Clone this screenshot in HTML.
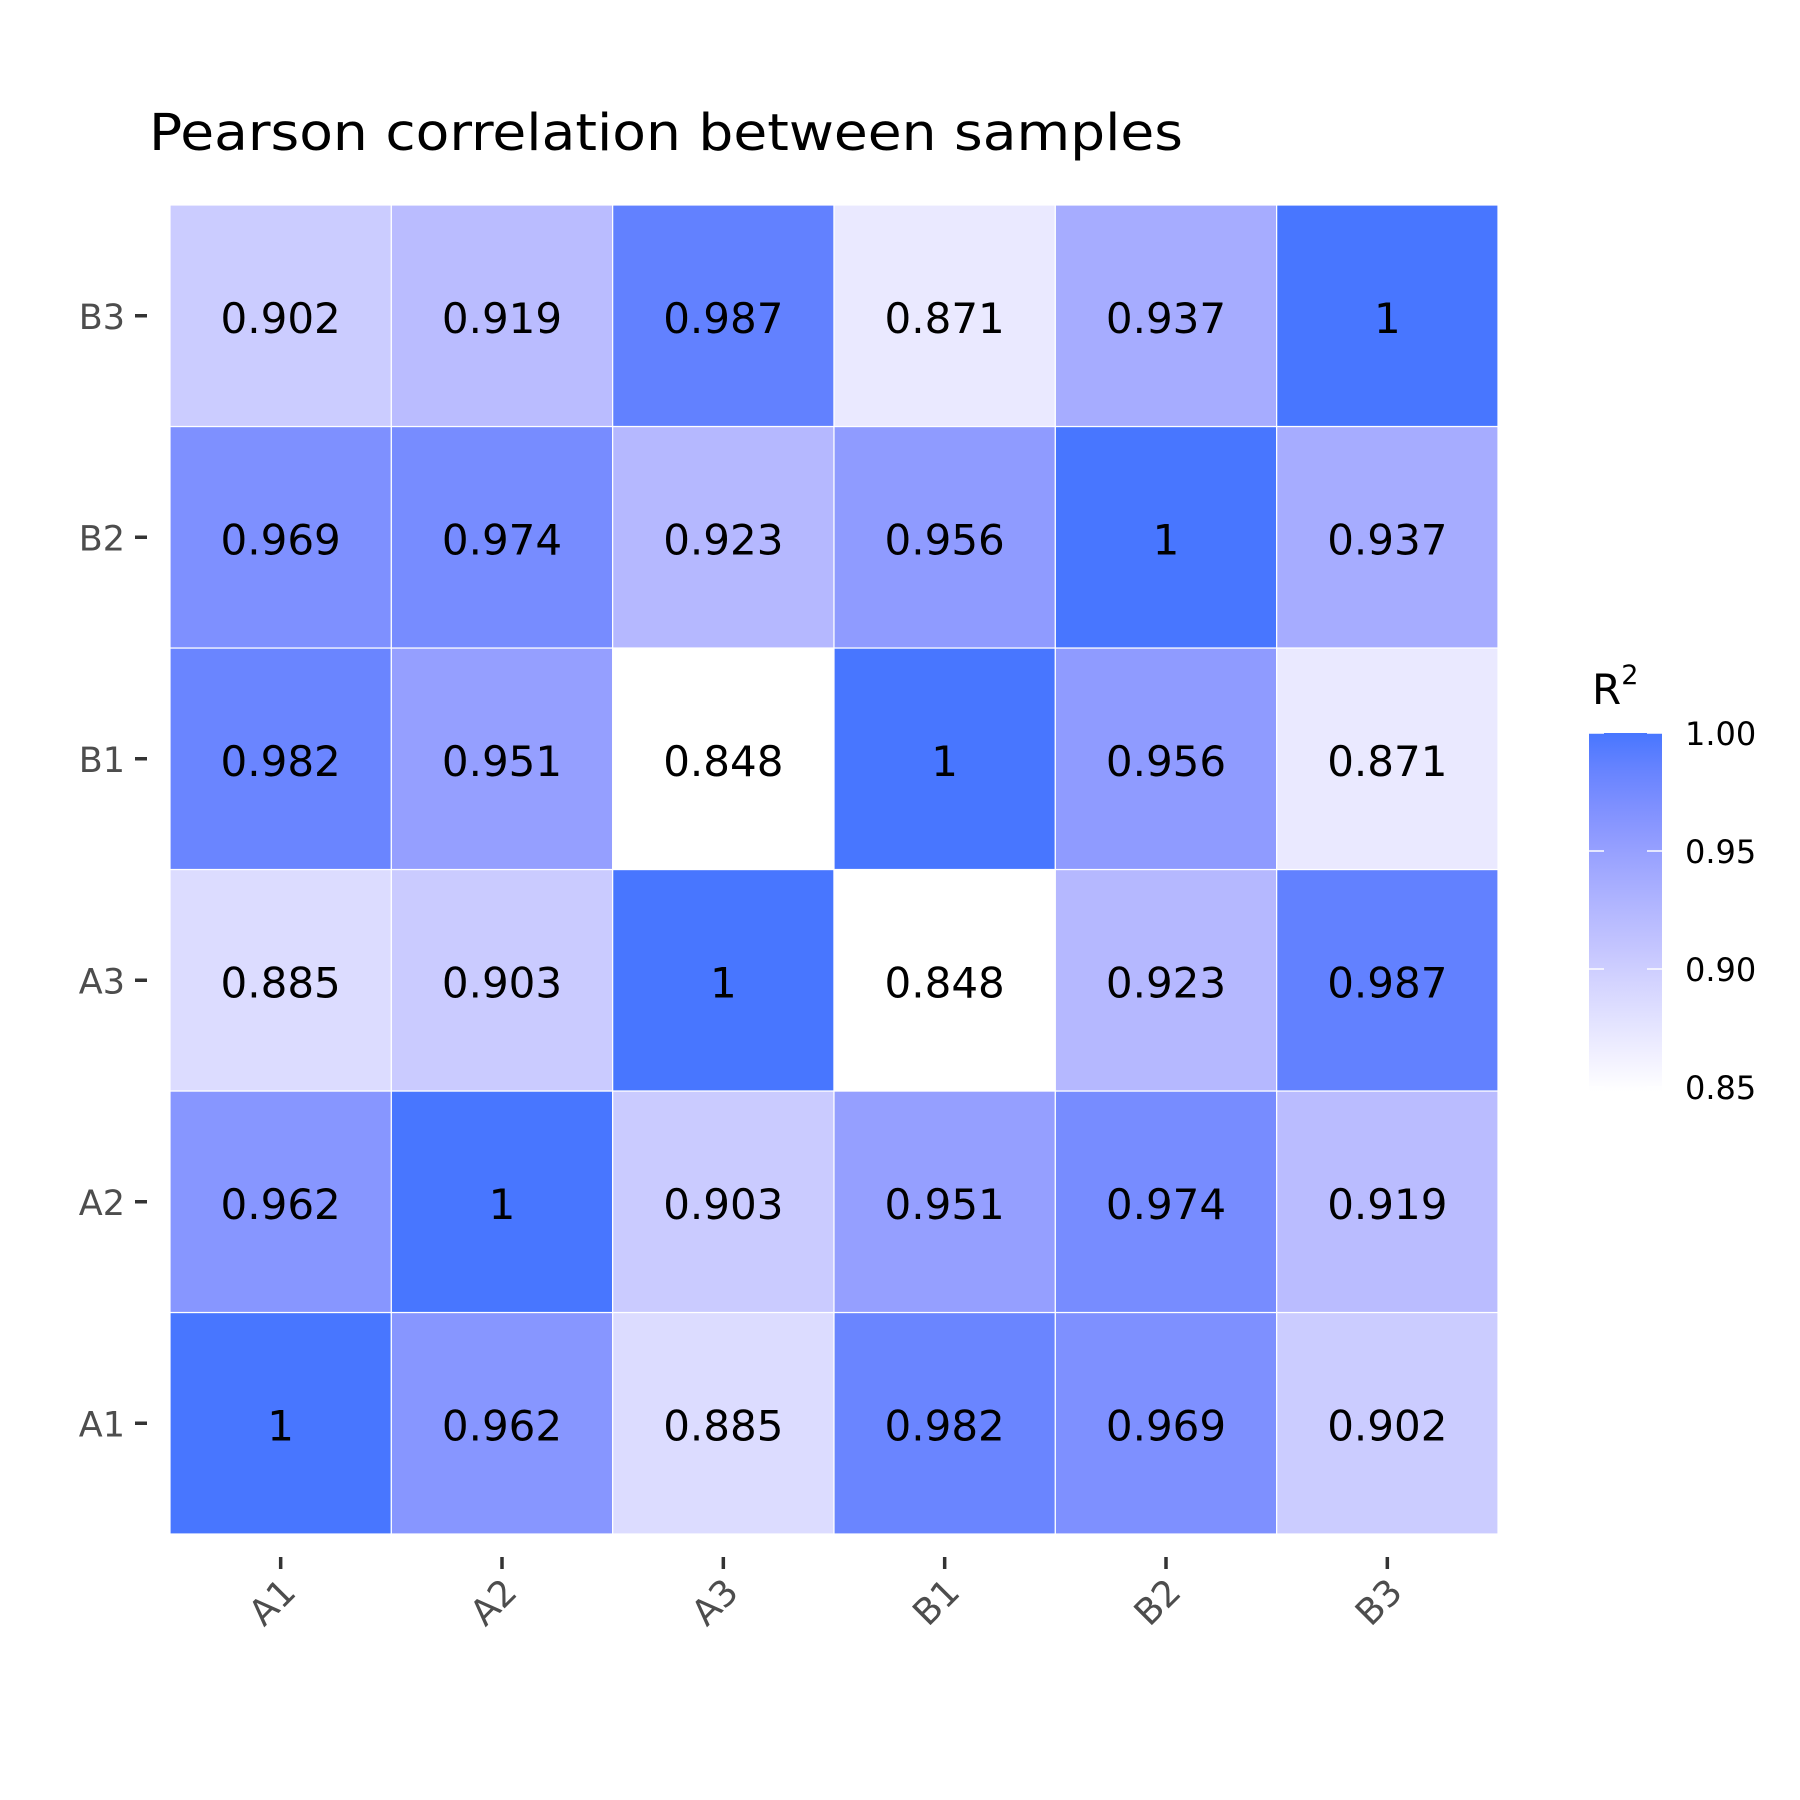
<!DOCTYPE html>
<html><head><meta charset="utf-8"><style>html,body{margin:0;padding:0;background:#fff}svg{display:block}</style></head>
<body>
<svg id="chart" width="1800" height="1800" viewBox="0 0 1800 1800" xmlns="http://www.w3.org/2000/svg" font-family="'DejaVu Sans','Liberation Sans',sans-serif">
<rect width="1800" height="1800" fill="#fff"/>
<text x="149" y="150" font-size="51" textLength="1034" lengthAdjust="spacingAndGlyphs" fill="#000">Pearson correlation between samples</text>
<g id="cells"></g>
<g id="yaxis"></g>
<g id="xaxis"></g>
<g id="legend">
<defs><linearGradient id="grad" x1="0" y1="1" x2="0" y2="0"></linearGradient></defs>
<text x="1592" y="704" font-size="42" fill="#000">R<tspan dy="-20" font-size="27">2</tspan></text>
</g>
</svg>
<script>
const samples = ["A1","A2","A3","B1","B2","B3"];
const rowA1 = [1, 0.962, 0.885, 0.982, 0.969, 0.902];
const rowA2 = [0.962, 1, 0.903, 0.951, 0.974, 0.919];
const rowA3 = [0.885, 0.903, 1, 0.848, 0.923, 0.987];
const rowB1 = [0.982, 0.951, 0.848, 1, 0.956, 0.871];
const rowB2 = [0.969, 0.974, 0.923, 0.956, 1, 0.937];
const rowB3 = [0.902, 0.919, 0.987, 0.871, 0.937, 1];
const legendTicks = [0.85, 0.90, 0.95, 1.00];
const legendTickLabels = ["0.85","0.90","0.95","1.00"];
const rows = [rowA1,rowA2,rowA3,rowB1,rowB2,rowB3];

const NS = "http://www.w3.org/2000/svg";
const pLeft = 170, pRight = 1498, pTop = 205, pBottom = 1534;
const nS = samples.length;
const cw = (pRight-pLeft)/nS, ch = (pBottom-pTop)/nS;
const xPos = i => pLeft + i*cw;
const yPos = j => pBottom - (j+1)*ch;
let vmin = Infinity, vmax = -Infinity;
rows.forEach(r => r.forEach(v => { vmin = Math.min(vmin, v); vmax = Math.max(vmax, v); }));

function toLin(c){c/=255;return c<=0.04045?c/12.92:Math.pow((c+0.055)/1.055,2.4);}
function fromLin(c){c=c<=0.0031308?12.92*c:1.055*Math.pow(c,1/2.4)-0.055;return Math.round(Math.max(0,Math.min(1,c))*255);}
function rgb2lab(r,g,b){r=toLin(r);g=toLin(g);b=toLin(b);
 let X=(r*0.4124+g*0.3576+b*0.1805)/0.95047,Y=(r*0.2126+g*0.7152+b*0.0722),Z=(r*0.0193+g*0.1192+b*0.9505)/1.08883;
 const f=t=>t>0.008856?Math.cbrt(t):7.787*t+16/116;
 X=f(X);Y=f(Y);Z=f(Z);return [116*Y-16,500*(X-Y),200*(Y-Z)];}
function lab2rgb(L,a,b){let Y=(L+16)/116,X=a/500+Y,Z=Y-b/200;
 const fi=t=>t*t*t>0.008856?t*t*t:(t-16/116)/7.787;
 X=fi(X)*0.95047;Y=fi(Y);Z=fi(Z)*1.08883;
 const r=X*3.2406+Y*-1.5372+Z*-0.4986,g=X*-0.9689+Y*1.8758+Z*0.0415,bb=X*0.0557+Y*-0.2040+Z*1.0570;
 return "rgb("+fromLin(r)+","+fromLin(g)+","+fromLin(bb)+")";}
const labLo = rgb2lab(255,255,255), labHi = rgb2lab(72,118,255);
function color(v){const t=(v-vmin)/(vmax-vmin);return lab2rgb(labLo[0]+(labHi[0]-labLo[0])*t,labLo[1]+(labHi[1]-labLo[1])*t,labLo[2]+(labHi[2]-labLo[2])*t);}

const cells = document.getElementById("cells");
rows.forEach((r, j) => r.forEach((v, i) => {
  const rect = document.createElementNS(NS,"rect");
  
  
  rect.setAttribute("x", xPos(i)); rect.setAttribute("y", yPos(j));
  rect.setAttribute("width", cw); rect.setAttribute("height", ch);
  rect.setAttribute("fill", color(v)); rect.setAttribute("stroke", "#fff"); rect.setAttribute("stroke-width", "1.2");
  cells.appendChild(rect);
}));
rows.forEach((r, j) => r.forEach((v, i) => {
  const t = document.createElementNS(NS,"text");
  
  
  t.setAttribute("x", xPos(i)+cw/2); t.setAttribute("y", yPos(j)+ch/2+17);
  t.setAttribute("text-anchor","middle"); t.setAttribute("font-size","42"); t.setAttribute("fill","#000");
  t.textContent = String(v);
  cells.appendChild(t);
}));

const yaxis = document.getElementById("yaxis"), xaxis = document.getElementById("xaxis");
samples.forEach((s, k) => {
  const cy = yPos(k)+ch/2;
  const tk = document.createElementNS(NS,"line");
  
  
  tk.setAttribute("x1",135); tk.setAttribute("x2",147); tk.setAttribute("y1",cy); tk.setAttribute("y2",cy);
  tk.setAttribute("stroke","#333"); tk.setAttribute("stroke-width","3.5");
  yaxis.appendChild(tk);
  const lb = document.createElementNS(NS,"text");
  
  
  lb.setAttribute("x",125); lb.setAttribute("y",cy+13); lb.setAttribute("text-anchor","end");
  lb.setAttribute("font-size","35"); lb.setAttribute("fill","#4d4d4d"); lb.textContent = s;
  yaxis.appendChild(lb);

  const cx = xPos(k)+cw/2;
  const xt = document.createElementNS(NS,"line");
  
  
  xt.setAttribute("x1",cx); xt.setAttribute("x2",cx); xt.setAttribute("y1",1557); xt.setAttribute("y2",1569);
  xt.setAttribute("stroke","#333"); xt.setAttribute("stroke-width","3.5");
  xaxis.appendChild(xt);
  const xl = document.createElementNS(NS,"text");
  
  
  const ex = cx+17, ey = 1594;
  xl.setAttribute("x",ex); xl.setAttribute("y",ey); xl.setAttribute("text-anchor","end");
  xl.setAttribute("transform","rotate(-45 "+ex+" "+ey+")");
  xl.setAttribute("font-size","36"); xl.setAttribute("fill","#4d4d4d"); xl.textContent = s;
  xaxis.appendChild(xl);
});

// legend
const lgX = 1589, lgW = 73, lgTop = 733, per = 118/0.05;
const lY = v => lgTop + (1.0 - v)*per;
const grad = document.getElementById("grad");
for (let k=0;k<=10;k++){
  const v = vmin + (vmax-vmin)*k/10;
  const st = document.createElementNS(NS,"stop");
  st.setAttribute("offset", (k*10)+"%"); st.setAttribute("stop-color", color(v));
  grad.appendChild(st);
}
const legend = document.getElementById("legend");
const bar = document.createElementNS(NS,"rect");


bar.setAttribute("x",lgX); bar.setAttribute("y",lY(vmax)); bar.setAttribute("width",lgW);
bar.setAttribute("height",lY(vmin)-lY(vmax)); bar.setAttribute("fill","url(#grad)");
legend.appendChild(bar);
legendTicks.forEach((v, k) => {
  const y = lY(v);
  [[lgX, lgX+15],[lgX+lgW-15, lgX+lgW]].forEach(p => {
    const l = document.createElementNS(NS,"line");
    
    
    l.setAttribute("x1",p[0]); l.setAttribute("x2",p[1]); l.setAttribute("y1",y); l.setAttribute("y2",y);
    l.setAttribute("stroke","#fff"); l.setAttribute("stroke-width","1.5");
    legend.appendChild(l);
  });
  const t = document.createElementNS(NS,"text");
  
  
  t.setAttribute("x",1685); t.setAttribute("y",y+12); t.setAttribute("font-size","32"); t.setAttribute("fill","#000");
  t.textContent = legendTickLabels[k];
  legend.appendChild(t);
});
</script>
</body></html>
